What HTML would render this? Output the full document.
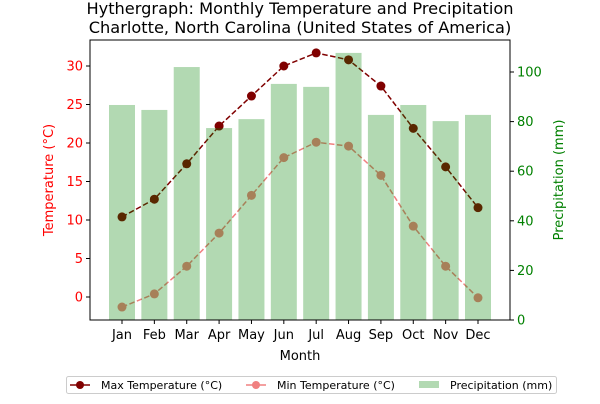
<!DOCTYPE html>
<html><head><meta charset="utf-8"><style>
body{margin:0;background:#fff;font-family:"DejaVu Sans","Liberation Sans",sans-serif}
</style></head><body>
<svg id="c" width="600" height="400" xmlns="http://www.w3.org/2000/svg" font-family="DejaVu Sans, Liberation Sans, sans-serif"></svg>
<script>
const months=["Jan","Feb","Mar","Apr","May","Jun","Jul","Aug","Sep","Oct","Nov","Dec"];
const maxTemp=[10.4,12.7,17.3,22.2,26.1,30.0,31.7,30.8,27.4,21.9,16.9,11.6];
const minTemp=[-1.3,0.4,4.0,8.3,13.2,18.1,20.1,19.6,15.8,9.2,4.0,-0.1];
const precip=[86.7,84.7,102,77.4,81,95.2,94,107.7,82.7,86.7,80.2,82.7];
const leftTicks=[0,5,10,15,20,25,30];
const rightTicks=[0,20,40,60,80,100];
const svg=document.getElementById('c');const NS='http://www.w3.org/2000/svg';
function mk(t,a,txt){const e=document.createElementNS(NS,t);for(const k in a)e.setAttribute(k,a[k]);if(txt!==undefined)e.textContent=txt;svg.appendChild(e);return e;}
const L=90,R=510,T=40,B=320;
const x=i=>122+i*(478-122)/11;
const yT=v=>297-v*7.7;
const yP=v=>320-v*2.48;
function series(vals,color,name){
 const pts=vals.map((v,i)=>x(i)+','+yT(v)).join(' ');
 const l=mk('polyline',{points:pts,fill:'none',stroke:color,'stroke-width':1.5,'stroke-dasharray':'5.5,2.5'});
 
 
 vals.forEach((v,i)=>{const c=mk('circle',{cx:x(i),cy:yT(v),r:4.5,fill:color});
 
 });
}
series(maxTemp,'#800000','max-temp');
series(minTemp,'#f08080','min-temp');
precip.forEach((p,i)=>{const e=mk('rect',{x:x(i)-13,y:yP(p),width:26,height:B-yP(p),fill:'green','fill-opacity':0.3});

});
mk('rect',{x:L,y:T,width:R-L,height:B-T,fill:'none',stroke:'#000','stroke-width':1});
leftTicks.forEach(t=>{mk('line',{x1:L-4,x2:L,y1:yT(t),y2:yT(t),stroke:'#000'});
 mk('text',{x:L-7,y:yT(t)+4.5,'text-anchor':'end','font-size':13,fill:'red'},t);});
rightTicks.forEach(t=>{mk('line',{x1:R,x2:R+4,y1:yP(t),y2:yP(t),stroke:'#000'});
 mk('text',{x:R+7,y:yP(t)+4.5,'font-size':13,fill:'green'},t);});
months.forEach((m,i)=>{mk('line',{x1:x(i),x2:x(i),y1:B,y2:B+4,stroke:'#000'});
 mk('text',{x:x(i),y:B+19,'text-anchor':'middle','font-size':13},m);});
mk('text',{x:300,y:360,'text-anchor':'middle','font-size':13},'Month');
mk('text',{x:0,y:0,'text-anchor':'middle','font-size':13,fill:'red',transform:'translate(53,180) rotate(-90)'},'Temperature (°C)');
mk('text',{x:0,y:0,'text-anchor':'middle','font-size':13,fill:'green',transform:'translate(563,180) rotate(-90)'},'Precipitation (mm)');
mk('text',{x:300,y:14,'text-anchor':'middle','font-size':16.2},'Hythergraph: Monthly Temperature and Precipitation');
mk('text',{x:300,y:33,'text-anchor':'middle','font-size':16.2},'Charlotte, North Carolina (United States of America)');
const lg=mk('rect',{x:66.5,y:376.5,width:490,height:17,fill:'#fff',stroke:'#ccc',rx:2});


mk('line',{x1:70,x2:90,y1:385,y2:385,stroke:'#800000','stroke-width':1.5});
mk('circle',{cx:80,cy:385,r:4,fill:'#800000'});
mk('text',{x:101,y:389,'font-size':11},'Max Temperature (°C)');
mk('line',{x1:246,x2:266,y1:385,y2:385,stroke:'#f08080','stroke-width':1.5});
mk('circle',{cx:256,cy:385,r:4,fill:'#f08080'});
mk('text',{x:277,y:389,'font-size':11},'Min Temperature (°C)');
mk('rect',{x:419,y:381,width:20,height:7,fill:'green','fill-opacity':0.3});
mk('text',{x:450,y:389,'font-size':11},'Precipitation (mm)');
</script>
</body></html>
